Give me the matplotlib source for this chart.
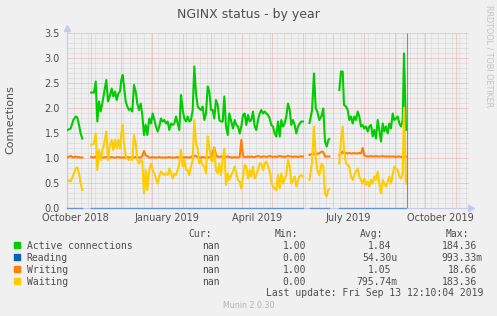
import numpy as np
import matplotlib
matplotlib.use('Agg')
import matplotlib.pyplot as plt
from matplotlib.patches import Rectangle

nan = np.nan

# days since 2018-10-01, one list per stretch of data (gaps in between)
dayA = [7.3, 10.7, 13.3, 15.7, 17.3, 19.0, 20.7, 22.3]
activeA = [1.56, 1.59, 1.76, 1.83, 1.81, 1.66, 1.49, 1.39]
writingA = [1.01, 1.04, 1.01, 1.03, 1.01, 1.02, 1.01, 1.01]
waitingA = [0.56, 0.53, 0.66, 0.79, 0.81, 0.69, 0.49, 0.36]

dayB = [31.3, 34.0, 35.7, 37.3, 39.0, 40.7, 42.3, 44.0, 46.3, 48.0, 49.7, 51.7,
        53.3, 55.0, 56.7, 58.3, 60.0, 61.3, 62.7, 64.0, 65.7, 67.3, 69.0, 70.7,
        72.3, 74.0, 75.7, 77.3, 79.0, 80.7, 82.3, 84.0, 85.7, 87.3,
        89.3, 91.0, 92.7, 94.3, 96.0, 97.7, 99.3, 101.0, 102.7, 104.3, 106.0,
        107.7, 109.3, 111.0, 112.7, 114.3, 116.0, 117.7, 119.3, 121.0, 122.7,
        124.3, 126.0, 127.7, 129.3, 131.0, 132.7, 134.3, 136.0, 137.7, 139.3,
        141.0, 142.7, 144.3, 146.0, 147.7, 149.3, 151.0, 152.7, 154.3, 156.0,
        157.7, 159.3, 161.0, 162.7, 164.3, 166.0, 167.7, 169.3,
        171.3, 173.0, 174.7, 176.3, 178.0, 179.7, 181.3, 183.0, 184.7, 186.3,
        188.0, 189.7, 191.3, 193.0, 194.7, 196.3, 198.0, 199.7, 201.3, 203.0,
        204.7, 206.3, 208.0, 209.7, 211.3, 213.0, 214.7, 216.3, 218.0, 219.7,
        221.3, 223.0, 224.7, 226.3, 228.0, 229.7, 231.3, 233.0, 234.7, 236.3,
        238.0, 239.7, 241.3, 243.0]
activeB = [2.31, 2.31, 2.53, 1.73, 2.13, 1.93, 2.09, 2.29, 2.56, 2.13, 2.23, 2.39,
           2.23, 2.33, 2.16, 2.29, 2.33, 2.56, 2.66, 2.43, 2.13, 2.03, 1.96, 1.99,
           1.93, 2.46, 2.33, 2.09, 1.96, 2.09, 1.86, 1.46, 1.66, 1.46,
           1.79, 1.69, 1.89, 1.76, 1.63, 1.53, 1.63, 1.79, 1.73, 1.76, 1.69,
           1.73, 1.56, 1.69, 1.66, 1.69, 1.83, 1.69, 1.56, 2.26, 1.96,
           1.79, 1.73, 1.83, 1.73, 1.76, 1.96, 2.83, 2.29, 2.03, 1.99,
           1.96, 2.03, 1.76, 1.89, 2.43, 2.33, 1.96, 1.96, 1.79, 2.16,
           2.06, 1.76, 1.73, 1.73, 2.23, 1.63, 1.46, 1.89,
           1.73, 1.59, 1.76, 1.66, 1.63, 1.49, 1.63, 1.86, 1.89, 1.66,
           1.86, 1.73, 1.76, 1.93, 1.63, 1.56, 1.76, 1.89, 1.96, 1.89,
           1.93, 1.89, 1.86, 1.79, 1.66, 1.63, 1.49, 1.43, 1.73, 1.43,
           1.76, 1.63, 1.69, 1.83, 2.09, 1.96, 1.66, 1.76, 1.66, 1.49,
           1.63, 1.69, 1.73, 1.73]
writingB = [1.02, 1.01, 1.03, 1.01, 1.01, 1.02, 1.01, 1.01, 1.02, 1.01, 1.01, 1.02,
            1.01, 1.01, 1.01, 1.02, 1.01, 1.01, 1.01, 1.01, 1.01, 1.02, 1.01, 1.01,
            1.01, 1.01, 1.02, 1.01, 1.01, 1.01, 1.04, 1.14, 1.05, 1.04,
            1.01, 1.01, 1.02, 1.01, 1.01, 1.01, 1.02, 1.01, 1.01, 1.01, 1.01,
            1.01, 1.02, 1.01, 1.01, 1.01, 1.01, 1.02, 1.01, 1.01, 1.01,
            1.01, 1.02, 1.01, 1.01, 1.02, 1.04, 1.04, 1.04, 1.02, 1.01,
            1.01, 1.02, 1.01, 1.01, 1.02, 1.01, 1.01, 1.12, 1.21, 1.05,
            1.03, 1.02, 1.03, 1.02, 1.03, 1.02, 1.03, 1.02,
            1.01, 1.01, 1.02, 1.01, 1.01, 1.02, 1.36, 1.04, 1.02, 1.02,
            1.03, 1.02, 1.03, 1.02, 1.02, 1.03, 1.04, 1.03, 1.02, 1.03,
            1.03, 1.02, 1.03, 1.04, 1.03, 1.02, 1.03, 1.02, 1.03, 1.04,
            1.03, 1.03, 1.02, 1.03, 1.04, 1.03, 1.03, 1.02, 1.03, 1.03,
            1.02, 1.03, 1.03, 1.03]
waitingB = [1.26, 1.29, 1.49, 0.76, 1.16, 0.96, 1.16, 1.26, 1.53, 0.96, 1.23, 1.36,
            1.16, 1.36, 1.19, 1.36, 1.19, 1.49, 1.66, 1.29, 1.03, 0.99, 0.96, 0.99,
            0.96, 1.46, 1.29, 0.96, 0.89, 0.96, 0.93, 0.29, 0.76, 0.36,
            0.76, 0.89, 0.76, 0.69, 0.59, 0.49, 0.63, 0.73, 0.69, 0.66, 0.69,
            0.66, 0.79, 0.69, 0.59, 0.69, 0.66, 0.76, 0.89, 1.16, 0.83,
            0.96, 0.76, 0.76, 0.66, 0.83, 0.96, 1.76, 1.29, 1.19, 0.89,
            0.96, 0.86, 0.83, 0.69, 1.43, 1.23, 0.96, 0.93, 1.19, 0.76,
            0.69, 0.89, 0.66, 0.96, 1.19, 0.46, 0.69, 0.56,
            0.66, 0.73, 0.83, 0.69, 0.56, 0.53, 0.39, 0.63, 0.86, 0.83,
            0.59, 0.76, 0.63, 0.83, 0.59, 0.66, 0.76, 0.89, 0.89, 0.76,
            0.89, 0.93, 0.83, 0.73, 0.53, 0.43, 0.39, 0.36, 0.66, 0.39,
            0.69, 0.49, 0.59, 0.66, 0.96, 0.83, 0.49, 0.56, 0.63, 0.43,
            0.56, 0.63, 0.66, 0.63]

dayC = [249.5, 252.0, 254.0, 255.7, 257.3, 259.3, 261.7, 263.3, 265.0, 266.7,
        268.3, 269.3]
activeC = [1.70, 1.95, 2.69, 2.00, 1.93, 1.76, 1.85, 1.99, 1.33, 1.23, 1.36, 1.38]
writingC = [1.06, 1.08, 1.09, 1.08, 1.09, 1.09, 1.13, 1.12, 1.03, 1.03, 1.03, 1.03]
waitingC = [0.56, 0.90, 1.63, 1.03, 0.76, 0.66, 0.89, 0.83, 0.29, 0.23, 0.36, 0.38]

dayD = [279.3, 281.0, 282.7, 284.0, 286.0, 287.7, 289.3, 291.0, 292.7, 294.3,
        296.0, 297.7, 299.3, 301.0, 302.7, 304.3, 306.0, 307.7, 309.3, 311.0,
        312.7, 314.3, 316.0, 317.7, 319.3, 321.0, 322.7, 324.3, 326.0, 327.7,
        329.3, 331.0, 332.7, 334.3, 336.0, 337.7, 339.3, 341.0, 342.7, 344.0,
        346.0]
activeD = [2.36, 2.73, 2.73, 2.06, 2.03, 1.96, 1.76, 1.83, 1.69, 1.83,
           1.76, 1.93, 1.83, 1.63, 1.66, 1.59, 1.63, 1.53, 1.63, 1.66,
           1.43, 1.56, 1.39, 1.76, 1.56, 1.33, 1.69, 1.53, 1.63, 1.49,
           1.69, 1.59, 1.89, 1.76, 1.79, 1.83, 1.69, 1.63, 1.76, 3.09, 1.56]
writingD = [1.06, 1.09, 1.13, 1.09, 1.10, 1.09, 1.10, 1.09, 1.09, 1.10,
            1.09, 1.09, 1.10, 1.09, 1.20, 1.05, 1.04, 1.03, 1.03, 1.04,
            1.03, 1.03, 1.04, 1.03, 1.03, 1.03, 1.04, 1.03, 1.03, 1.03,
            1.03, 1.03, 1.03, 1.03, 1.02, 1.03, 1.03, 1.02, 1.03, 1.03, 1.03]
waitingD = [0.89, 1.36, 1.63, 1.16, 0.89, 0.86, 0.83, 0.63, 0.56, 0.66,
            0.73, 0.79, 0.63, 0.56, 0.49, 0.59, 0.46, 0.53, 0.43, 0.56,
            0.49, 0.63, 0.56, 0.73, 0.49, 0.29, 0.56, 0.49, 0.43, 0.53,
            0.63, 0.49, 0.66, 0.83, 0.79, 0.76, 0.63, 0.59, 0.69, 2.00, 0.49]

last_update_day = 347   # 2019-09-13

names = ['Active connections', 'Reading', 'Writing', 'Waiting']
colors = ['#00cc00', '#0066b3', '#ff8000', '#ffcc00']
cur = ['nan', 'nan', 'nan', 'nan']
mins = ['1.00', '0.00', '1.00', '0.00']
avgs = ['1.84', '54.30u', '1.05', '795.74m']
maxs = ['184.36', '993.33m', '18.66', '183.36']

label_dates = ['2018-10-16', '2019-01-16', '2019-04-16', '2019-07-16', '2019-10-16']
label_text = ['October 2018', 'January 2019', 'April 2019', 'July 2019', 'October 2019']


def join(*parts):
    out = []
    for i, p in enumerate(parts):
        if i:
            out.append(nan)
        out += p
    return np.array(out, dtype=float)


day = join(dayA, dayB, dayC, dayD)
active = join(activeA, activeB, activeC, activeD)
writing = join(writingA, writingB, writingC, writingD)
waiting = join(waitingA, waitingB, waitingC, waitingD)
reading = np.where(np.isnan(active), nan, 0.0)

#--------------------------------------------------------------------
# grafica
#--------------------------------------------------------------------

W, H = 497, 316


def fx(px):
    return px / W


def fy(py):
    return 1 - py / H


txt = '#4d4d4d'
axis_c = '#c4c8f2'
fig = plt.figure(figsize=(W / 100, H / 100), dpi=100, facecolor='#f0f0f0')
ax = fig.add_axes([fx(66.7), fy(208), (469.3 - 66.7) / W, (208 - 33) / H])
ax.set_facecolor('#f0f0f0')
x0, x1 = 6.7, 409.3
ax.set_xlim(x0, x1)
ax.set_ylim(0, 3.5)
for s in ax.spines.values():
    s.set_visible(False)

# grid
start = np.datetime64('2018-10-01')
months = np.arange(np.datetime64('2018-11'), np.datetime64('2019-12'), dtype='datetime64[M]')
month_days = (months.astype('datetime64[D]') - start).astype(int)
weeks = np.arange(7, x1, 7)
weeks = weeks[~np.isin(weeks, month_days)]
ys = np.round(np.arange(0.1, 3.51, 0.1), 2)
minor_y = ys[np.abs(ys / 0.5 - np.round(ys / 0.5)) > 1e-6]
major_y = np.arange(0.5, 3.51, 0.5)

dot = (0, (1, 1))
ax.hlines(minor_y, x0, x1, colors='#d4d4d4', lw=0.72, linestyles=dot, zorder=1)
ax.vlines(weeks, 0, 3.5, colors='#d4d4d4', lw=0.72, linestyles=dot, zorder=1)
ax.hlines(major_y, x0, x1, colors='#eba4a4', lw=0.72, linestyles=dot, zorder=1.5)
ax.vlines(month_days, 0, 3.5, colors='#eba4a4', lw=0.72, linestyles=dot, zorder=1.5)

# axes with arrows
ax.plot([x0, x0], [0, 3.6], color=axis_c, lw=0.8, clip_on=False, zorder=2)
ax.plot([x0], [3.6], marker='^', ms=4, color=axis_c, clip_on=False, zorder=2)
ax.plot([x0, 411], [0, 0], color=axis_c, lw=0.8, clip_on=False, zorder=2)
ax.plot([411], [0], marker='>', ms=4, color=axis_c, clip_on=False, zorder=2)

# series
ax.plot(day, active, color=colors[0], lw=1.5, zorder=3)
ax.plot(day, reading, color=colors[1], lw=1.0, alpha=0.5, zorder=3.1, clip_on=False)
ax.plot(day, writing, color=colors[2], lw=1.5, zorder=3.2)
ax.plot(day, waiting, color=colors[3], lw=1.5, zorder=3.3)

ax.vlines(last_update_day, 0, 3.5, colors='#8c8c8c', lw=0.8, zorder=4)

label_days = (np.array(label_dates, dtype='datetime64[D]') - start).astype(int)
ax.set_xticks(label_days, label_text)
ax.set_yticks(np.arange(0, 3.51, 0.5), ['%.1f' % v for v in np.arange(0, 3.51, 0.5)])
ax.tick_params(length=0, labelsize=7, labelcolor=txt)
ax.tick_params(axis='x', pad=3.4)
ax.tick_params(axis='y', pad=4.8)

# texts
fig.text(fx(248.5), fy(18.3), 'NGINX status - by year', ha='center', va='baseline',
         fontsize=9, color=txt)
fig.text(fx(10.8), fy(120), 'Connections', rotation=90, ha='center', va='center',
         fontsize=8, color=txt)
fig.text(fx(488.5), fy(56.5), 'RRDTOOL / TOBI OETIKER', rotation=270, ha='center',
         va='center', fontsize=5.8, color='#c4c4c4')

# legend
mono = 'DejaVu Sans Mono'
col_right = [226, 312, 397.5, 483]
headers = ['Cur:', 'Min:', 'Avg:', 'Max:']
for r, h in zip(col_right, headers):
    fig.text(fx(r - 14), fy(237.3), h, ha='right', va='baseline', family=mono,
             fontsize=7, color=txt)

for i, (n, c) in enumerate(zip(names, colors)):
    base = 248.7 + 12 * i
    fig.patches.append(Rectangle((fx(14), fy(base - 0.7)), 6 / W, 6 / H,
                                 transform=fig.transFigure, color=c))
    fig.text(fx(26.7), fy(base), n, ha='left', va='baseline', family=mono,
             fontsize=7, color=txt)
    for r, vals in zip(col_right, [cur, mins, avgs, maxs]):
        v = vals[i]
        shift = 0 if v[-1] in 'umkMG' else 6
        fig.text(fx(r - shift), fy(base), v, ha='right', va='baseline',
                 family=mono, fontsize=7, color=txt)

fig.text(fx(483), fy(296), 'Last update: Fri Sep 13 12:10:04 2019', ha='right',
         va='baseline', family=mono, fontsize=7, color=txt)
fig.text(fx(249), fy(308.3), 'Munin 2.0.30', ha='center', va='baseline',
         fontsize=5.7, color='#b4b4b4')

#--------------------------------------------------------------------

fig.savefig('out.png', dpi=100, facecolor=fig.get_facecolor())
